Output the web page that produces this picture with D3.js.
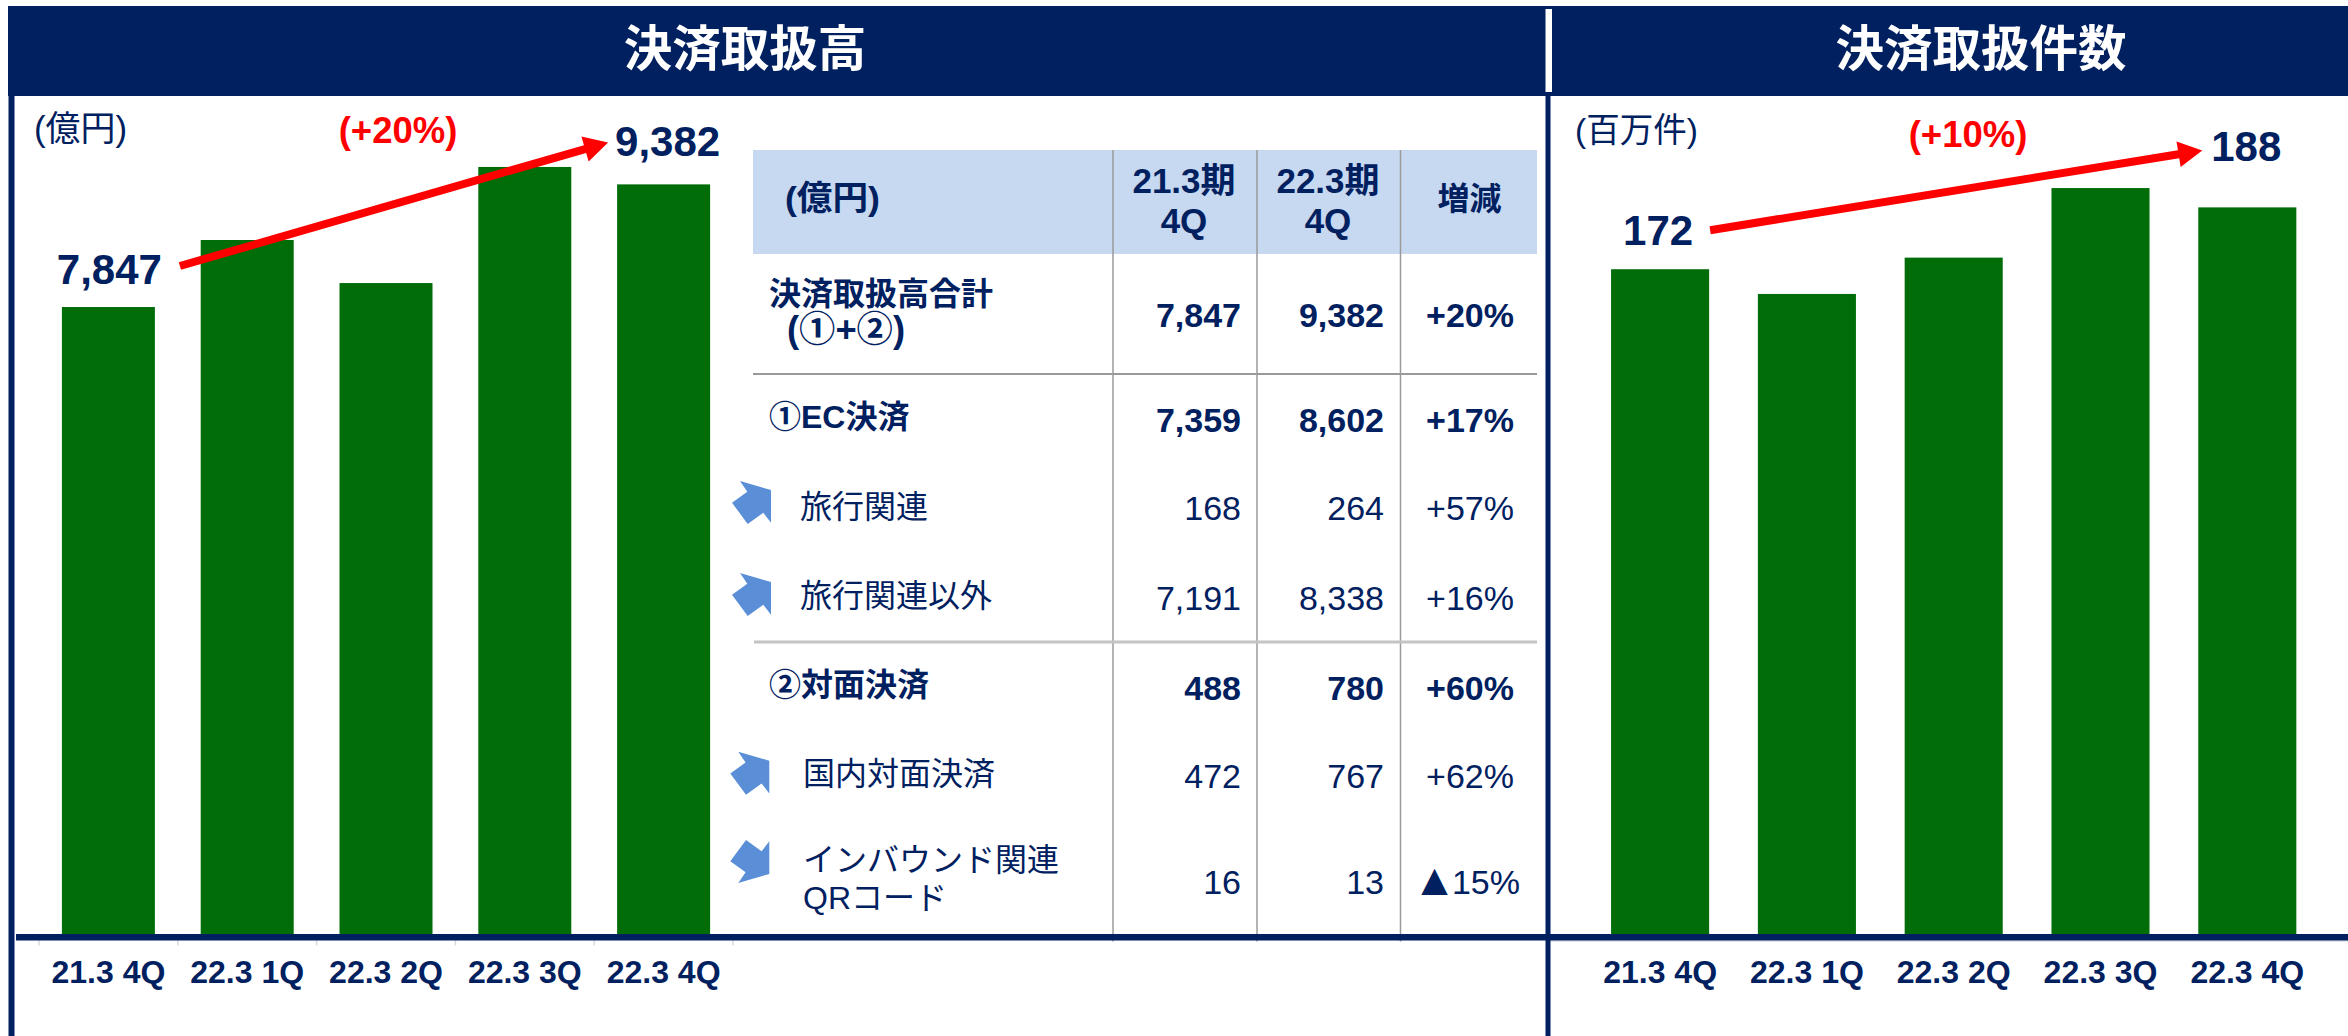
<!DOCTYPE html>
<html lang="ja"><head><meta charset="utf-8">
<script src="https://cdn.jsdelivr.net/npm/d3@7"></script>
<style>html,body{margin:0;padding:0;background:#fff;overflow:hidden}svg{display:block}
text{font-family:"Liberation Sans","Noto Sans CJK JP",sans-serif;fill:#002060}</style></head>
<body><svg id="c" width="2348" height="1036"></svg>
<script>
const quarters = ["21.3 4Q","22.3 1Q","22.3 2Q","22.3 3Q","22.3 4Q"];
const amountValues = [7847,8686,8147,9600,9382];
const countValues = [172,165.6,175,193,188];
const tableHead = ["21.3期","22.3期"];
const rowLabels = [["決済取扱高合計","(①+②)"],["①EC決済"],["旅行関連"],["旅行関連以外"],["②対面決済"],["国内対面決済"],["インバウンド関連","QRコード"]];
const prevValues = ["7,847","7,359","168","7,191","488","472","16"];
const currValues = ["9,382","8,602","264","8,338","780","767","13"];
const changeValues = ["+20%","+17%","+57%","+16%","+60%","+62%","▲15%"];
const boldRows = [true,true,false,false,true,false,false];
const trendDirs = [null,null,1,1,null,1,-1];

const NAVY="#002060",GREEN="#006D08",RED="#FF0000";
const svg=d3.select("#c");
const base=934;
const xL=d3.scaleBand().domain(quarters).range([39,733]).paddingInner(.33).paddingOuter(.165);
const yL=d3.scaleLinear().domain([0,10000]).range([base,135]);
const xR=d3.scaleBand().domain(quarters).range([1586.7,2320.7]).paddingInner(.332).paddingOuter(.166);
const yR=d3.scaleLinear().domain([0,200]).range([base,161]);

// headers
svg.append("rect").attr("x",8).attr("y",6).attr("width",2340).attr("height",90).attr("fill",NAVY);
svg.append("rect").attr("x",1545.5).attr("y",9).attr("width",6.5).attr("height",83).attr("fill","#fff");
const title=(t,x)=>svg.append("text").text(t).attr("x",x).attr("y",66).attr("text-anchor","middle")
  .attr("font-size",48.5).attr("font-weight",700).style("fill","#fff");
title("決済取扱高",745);title("決済取扱件数",1981);

// bars
function bars(x,y,vals){
  svg.append("g").selectAll("rect").data(vals).join("rect")
    .attr("x",(d,i)=>x(quarters[i])).attr("width",x.bandwidth())
    .attr("y",d=>y(d)).attr("height",d=>y(0)-y(d)).attr("fill",GREEN);
}
bars(xL,yL,amountValues);bars(xR,yR,countValues);

// ticks (left chart, at band edges) and light line under the axis
const st=xL.step();
svg.append("g").selectAll("line").data(d3.range(6)).join("line")
  .attr("x1",i=>xL.range()[0]+i*st).attr("x2",i=>xL.range()[0]+i*st)
  .attr("y1",940).attr("y2",945.5).attr("stroke","#d9d9d9").attr("stroke-width",1.5);
svg.append("line").attr("x1",1550).attr("x2",2348).attr("y1",941).attr("y2",941).attr("stroke","#ccc");

// table
svg.append("rect").attr("x",753).attr("y",150).attr("width",784).attr("height",104).attr("fill","#C6D9F1");
[1113,1257,1400.5].forEach(x=>svg.append("line").attr("x1",x).attr("x2",x).attr("y1",150).attr("y2",941.5).attr("stroke","#9a9a9a").attr("stroke-width",1.5));
svg.append("line").attr("x1",753).attr("x2",1537).attr("y1",374).attr("y2",374).attr("stroke","#999").attr("stroke-width",2);
svg.append("line").attr("x1",754).attr("x2",1537).attr("y1",642).attr("y2",642).attr("stroke","#c4c4c4").attr("stroke-width",3);

// frame
svg.append("rect").attr("x",8.5).attr("y",96).attr("width",6).attr("height",940).attr("fill",NAVY);
svg.append("rect").attr("x",1545.5).attr("y",96).attr("width",5).attr("height",940).attr("fill",NAVY);
svg.append("rect").attr("x",16).attr("y",934).attr("width",2332).attr("height",6.5).attr("fill",NAVY);

// axes
function axis(x){
  const g=svg.append("g").attr("transform","translate(0,940)").call(d3.axisBottom(x).tickSize(0));
  g.select(".domain").remove();
  g.selectAll("text").attr("y",43).attr("dy",0).attr("font-size",32).attr("font-weight",700)
    .attr("text-anchor","middle").attr("font-family",null).style("font-family",'"Liberation Sans",sans-serif');
}
axis(xL);axis(xR);

// annotations
const T=(t,x,y,size,opt={})=>{const s=svg.append("text").text(t).attr("x",x).attr("y",y).attr("font-size",size)
  .attr("text-anchor",opt.anchor||"start").attr("font-weight",opt.bold?700:400);
  if(opt.fill)s.style("fill",opt.fill);if(opt.dx)s.attr("textLength",opt.dx).attr("lengthAdjust","spacingAndGlyphs");return s;};
T("(億円)",34,141,35,{dx:93});
T("(百万件)",1575,142,34,{dx:123});
T("(+20%)",398,143,36.5,{anchor:"middle",bold:true,fill:RED});
T("(+10%)",1968,147,36.5,{anchor:"middle",bold:true,fill:RED});
const cL=i=>xL(quarters[i])+xL.bandwidth()/2, cR=i=>xR(quarters[i])+xR.bandwidth()/2;
T(d3.format(",")(amountValues[0]),cL(0)+1,yL(amountValues[0])-23,42,{anchor:"middle",bold:true});
T(d3.format(",")(amountValues[4]),cL(4)+4,yL(amountValues[4])-28,42,{anchor:"middle",bold:true});
T(countValues[0],cR(0)-2,yR(countValues[0])-24,42,{anchor:"middle",bold:true});
T(countValues[4],cR(4)-1,yR(countValues[4])-46,42,{anchor:"middle",bold:true});

function arrow(x0,y0,x1,y1,sw=8,hl=24,hw=13){
  const dx=x1-x0,dy=y1-y0,L=Math.hypot(dx,dy),ux=dx/L,uy=dy/L,nx=-uy,ny=ux;
  const bx=x1-ux*hl,by=y1-uy*hl;
  const p=[[x0+nx*sw/2,y0+ny*sw/2],[bx+nx*sw/2,by+ny*sw/2],[bx+nx*hw,by+ny*hw],[x1,y1],[bx-nx*hw,by-ny*hw],[bx-nx*sw/2,by-ny*sw/2],[x0-nx*sw/2,y0-ny*sw/2]];
  svg.append("path").attr("d",d3.line()(p)+"Z").attr("fill",RED);
}
arrow(xL(quarters[0])+xL.bandwidth()+25,yL(amountValues[0])-41,xL(quarters[4])-9,yL(amountValues[4])-42);
arrow(xR(quarters[0])+xR.bandwidth()+1,yR(countValues[0])-39,xR(quarters[4])+4,yR(countValues[4])-57);

// table text
T("(億円)",785,210,34,{bold:true,dx:95});
tableHead.forEach((h,i)=>{const cx=[1184,1328][i];
  T(h,cx,193,35,{anchor:"middle",bold:true});T("4Q",cx,233,35,{anchor:"middle",bold:true});});
T("増減",1469.5,210,32,{anchor:"middle",bold:true});

const labelX=[769,769,800,800,769,803,803];
const labelY=[[305,342],[428],[518],[607],[696],[785],[871,909]];
const numY=[327,432,520,610,700,788,894];
rowLabels.forEach((ls,r)=>{
  ls.forEach((l,k)=>{
    if(r==0&&k==1) T(l,787,labelY[r][k],36,{bold:boldRows[r],dx:118});
    else T(l,labelX[r],labelY[r][k],32,{bold:boldRows[r]});
  });
  T(prevValues[r],1241,numY[r],34,{anchor:"end",bold:boldRows[r]});
  T(currValues[r],1384,numY[r],34,{anchor:"end",bold:boldRows[r]});
  const ch=changeValues[r];
  if(ch[0]==="▲"){
    T("▲",1434.5,numY[r]+1,45,{anchor:"middle"});
    T(ch.slice(1),1520,numY[r],34,{anchor:"end"});
  } else T(ch,1470,numY[r],34,{anchor:"middle",bold:boldRows[r]});
});

// trend arrows
const shape=[[30,0],[61,9],[61,41.7],[53.3,31.7],[37.7,43],[22,21.7],[37.3,10.7]];
trendDirs.forEach((d,r)=>{
  if(d===null)return;
  const ox=r>=5?708.3:710, oy=[0,0,481,573,0,751.7,840][r];
  const pts=shape.map(([a,b])=>[ox+a,d>0?oy+b:oy+43-b]);
  svg.append("path").attr("d",d3.line()(pts)+"Z").attr("fill","#5A8FD8");
});
</script></body></html>
